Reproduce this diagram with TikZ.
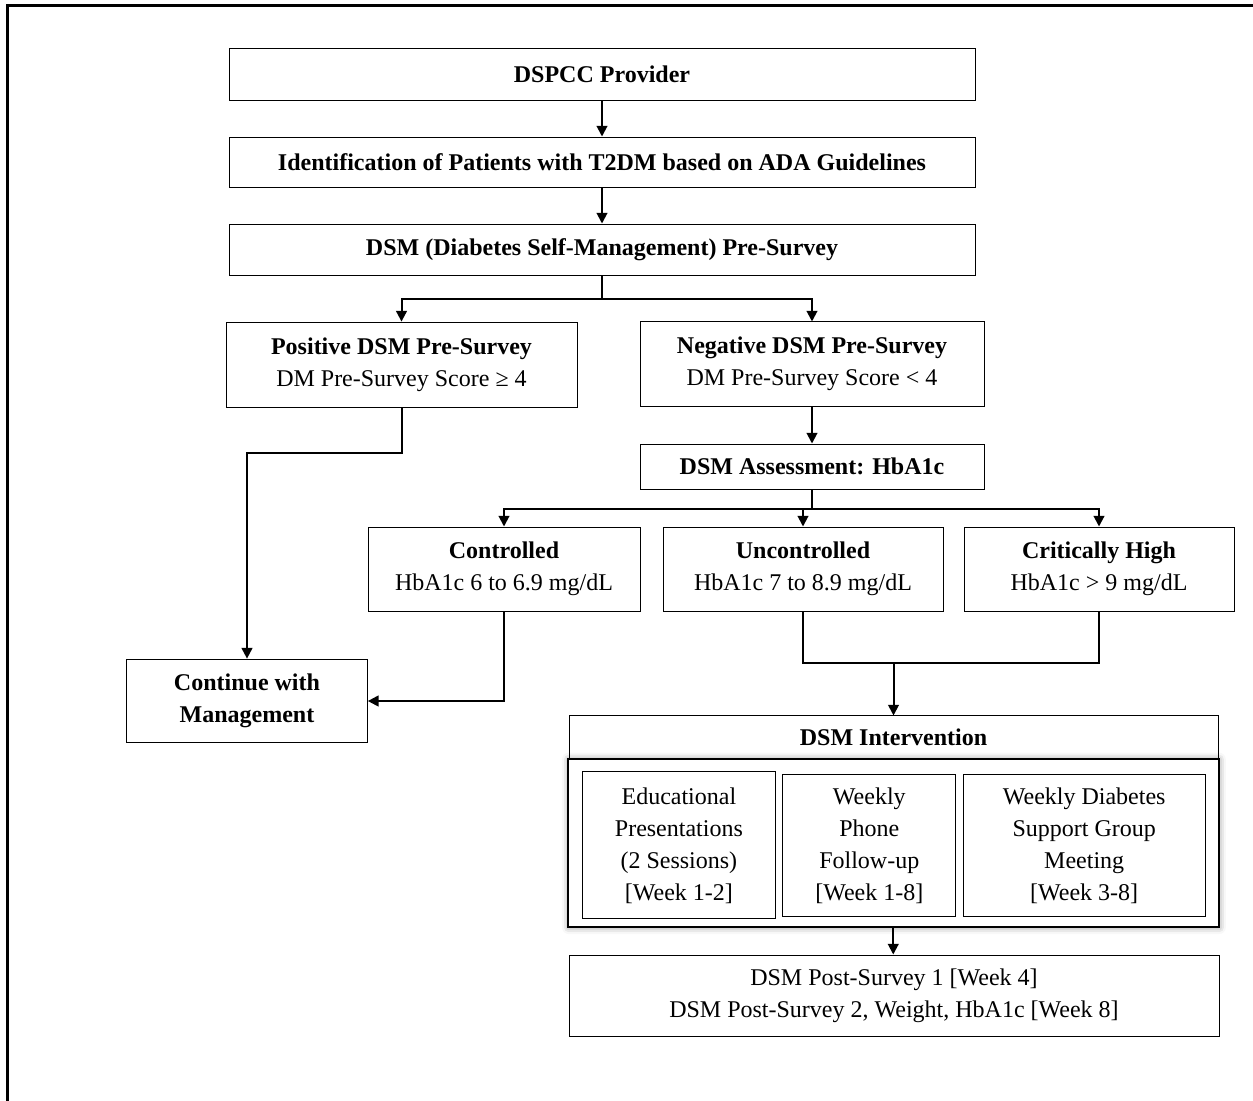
\documentclass[tikz,border=0pt]{standalone}
\usepackage{fontspec}
\setmainfont{Liberation Serif}
\usetikzlibrary{arrows.meta,shadows.blur}
\begin{document}
\begin{tikzpicture}[x=0.75pt,y=-0.75pt,
  box/.style={draw=black, line width=0.75pt, inner sep=0pt, align=center,
    font=\fontsize{18}{24}\selectfont},
  bbox/.style={box, font=\fontsize{18}{24}\selectfont\bfseries},
  conn/.style={line width=1.5pt},
  arr/.style={conn, -{Triangle[length=8pt,width=8pt]}},
  frm/.style={draw=black, line width=1.5pt, fill=white, inner sep=0pt,
    blur shadow={shadow xshift=0.5pt, shadow yshift=-0.5pt, shadow blur radius=5pt, shadow opacity=45}}
]
\useasboundingbox (0,0) rectangle (1253,1100);
% outer border (cut off at right and bottom)
\draw[line width=2.25pt] (7,1105) -- (7,5.3) -- (1260,5.3);

\node[bbox, minimum width=559.5pt, minimum height=39pt] (prov) at (602,74) {DSPCC Provider};
\node[bbox, minimum width=559.5pt, minimum height=37.5pt] (ident) at (602,162) {Identification of Patients with T2DM based on ADA Guidelines};
\node[bbox, minimum width=559.5pt, minimum height=38.25pt] (pre) at (602,249.5) {DSM (Diabetes Self-Management) Pre-Survey};

\node[box, minimum width=263.25pt, minimum height=64pt] (pos) at (401.5,364.75) {\textbf{Positive DSM Pre-Survey}\\DM Pre-Survey Score ≥ 4};
\node[box, minimum width=258pt, minimum height=63.4pt] (neg) at (812,364.25) {\textbf{Negative DSM Pre-Survey}\\DM Pre-Survey Score < 4};
\node[bbox, minimum width=258pt, minimum height=33.75pt] (assess) at (812,466.5) {DSM Assessment: HbA1c};

\node[box, minimum width=204pt, minimum height=63pt] (ctrl) at (504,569) {\textbf{Controlled}\\HbA1c 6 to 6.9 mg/dL};
\node[box, minimum width=210pt, minimum height=63pt] (unc) at (803,569) {\textbf{Uncontrolled}\\HbA1c 7 to 8.9 mg/dL};
\node[box, minimum width=202.5pt, minimum height=63pt] (crit) at (1099,569) {\textbf{Critically High}\\HbA1c > 9 mg/dL};

\node[bbox, minimum width=180.5pt, minimum height=62.8pt] (cont) at (247,701) {Continue with\\Management};

\node[bbox, minimum width=486.75pt, minimum height=32pt] (int) at (893.5,737.3) {DSM Intervention};
\node[frm, minimum width=487.9pt, minimum height=126pt] (frame) at (893.25,842.7) {};
\node[box, minimum width=144.2pt, minimum height=110pt] (edu) at (678.9,845.3) {Educational\\Presentations\\(2 Sessions)\\{[Week 1-2]}};
\node[box, minimum width=130pt, minimum height=106.7pt] (phone) at (869.3,845.8) {Weekly\\Phone\\Follow-up\\{[Week 1-8]}};
\node[box, minimum width=181.7pt, minimum height=106.7pt] (group) at (1084.2,845.8) {Weekly Diabetes\\Support Group\\Meeting\\{[Week 3-8]}};

\node[box, minimum width=487.5pt, minimum height=60.75pt] (post) at (894,995.5) {DSM Post-Survey 1 [Week 4]\\DSM Post-Survey 2, Weight, HbA1c [Week 8]};

% connectors
\draw[arr] (prov.south) -- (ident.north);
\draw[arr] (ident.south) -- (pre.north);
\coordinate (j1) at (602,298.7);
\draw[conn] (pre.south) -- (j1);
\draw[arr] (j1) -| (pos.north);
\draw[arr] (j1) -| (neg.north);
\coordinate (j2) at (401.5,453);
\draw[arr] (pos.south) -- (j2) -| (cont.north);
\draw[arr] (neg.south) -- (assess.north);
\coordinate (j3) at (812,508.7);
\draw[conn] (assess.south) -- (j3);
\draw[arr] (j3) -| (ctrl.north);
\draw[arr] (j3) -| (unc.north);
\draw[arr] (j3) -| (crit.north);
\draw[arr] (ctrl.south) |- (cont.east);
\coordinate (j4) at (893.5,663.3);
\draw[conn] (unc.south) |- (j4);
\draw[conn] (crit.south) |- (j4);
\draw[arr] (j4) -- (int.north);
\draw[arr] (frame.south) -- (frame.south |- post.north);
\end{tikzpicture}
\end{document}
